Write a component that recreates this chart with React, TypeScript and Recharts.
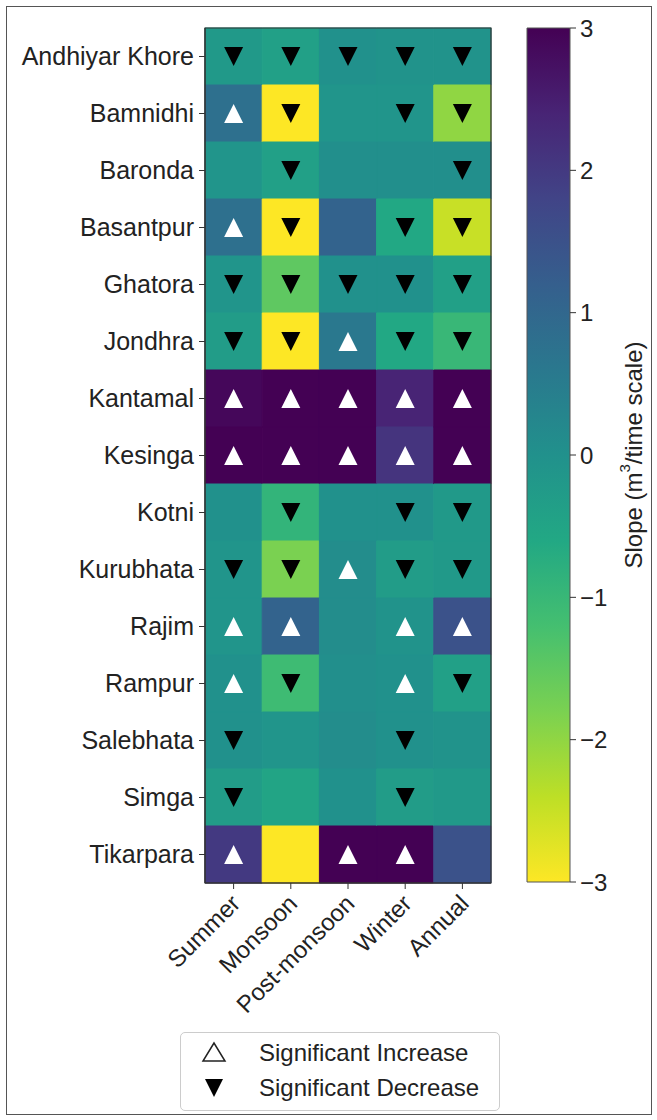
import { ScatterChart, Scatter, XAxis, YAxis, ReferenceArea, Label } from "recharts";

// ── data ──

const STATIONS = [
  "Andhiyar Khore", "Bamnidhi", "Baronda", "Basantpur", "Ghatora",
  "Jondhra", "Kantamal", "Kesinga", "Kotni", "Kurubhata",
  "Rajim", "Rampur", "Salebhata", "Simga", "Tikarpara",
];
const SEASONS = ["Summer", "Monsoon", "Post-monsoon", "Winter", "Annual"];

// slope per station (same order as STATIONS)
const SUMMER_SLOPE = [-0.2, 0.8, -0.1, 0.8, -0.1, -0.3, 2.9, 3, 0, -0.1, -0.1, 0, 0, -0.3, 2.0];
const MONSOON_SLOPE = [-0.4, -3, -0.4, -3, -1.5, -3, 3, 3, -0.9, -1.8, 1.1, -1.1, -0.1, -0.5, -3];
const POST_MONSOON_SLOPE = [0, -0.1, 0.05, 1.1, 0, 0.6, 3, 3, 0, 0.1, 0.1, 0.05, 0.1, 0, 3];
const WINTER_SLOPE = [-0.05, -0.1, 0.05, -0.6, 0, -0.6, 2.4, 2.1, 0, -0.3, -0.05, 0, 0, -0.3, 3];
const ANNUAL_SLOPE = [-0.05, -2.0, 0.05, -2.5, -0.4, -1.0, 3, 3, -0.2, -0.2, 1.5, -0.4, -0.05, -0.2, 1.5];

// significance: U = significant increase, D = significant decrease, "" = none
const SUMMER_TREND = ["D", "U", "", "U", "D", "D", "U", "U", "", "D", "U", "U", "D", "D", "U"];
const MONSOON_TREND = ["D", "D", "D", "D", "D", "D", "U", "U", "D", "D", "U", "D", "", "", ""];
const POST_MONSOON_TREND = ["D", "", "", "", "D", "U", "U", "U", "", "U", "", "", "", "", "U"];
const WINTER_TREND = ["D", "D", "", "D", "D", "D", "U", "U", "D", "D", "U", "U", "D", "D", "U"];
const ANNUAL_TREND = ["D", "D", "D", "D", "D", "D", "U", "U", "D", "D", "U", "D", "", "", ""];

const CBAR_TICKS = [-3, -2, -1, 0, 1, 2, 3];

const SLOPES = [SUMMER_SLOPE, MONSOON_SLOPE, POST_MONSOON_SLOPE, WINTER_SLOPE, ANNUAL_SLOPE];
const TRENDS = [SUMMER_TREND, MONSOON_TREND, POST_MONSOON_TREND, WINTER_TREND, ANNUAL_TREND];

// ── colours ──

const VIRIDIS = [
  "#440154", "#482475", "#414487", "#355f8d", "#2a788e", "#21918c",
  "#22a884", "#44bf70", "#7ad151", "#bddf26", "#fde725",
];

function hexToRgb(h: string) {
  return [1, 3, 5].map((i) => parseInt(h.slice(i, i + 2), 16));
}

function viridis(t: number): string {
  const p = Math.max(0, Math.min(1, t)) * (VIRIDIS.length - 1);
  const i = Math.min(Math.floor(p), VIRIDIS.length - 2);
  const f = p - i;
  const a = hexToRgb(VIRIDIS[i]);
  const b = hexToRgb(VIRIDIS[i + 1]);
  const c = a.map((v, k) => Math.round(v + (b[k] - v) * f));
  return `rgb(${c[0]},${c[1]},${c[2]})`;
}

// viridis reversed, -3 → yellow, 3 → purple
const slopeColor = (v: number) => viridis((3 - Math.max(-3, Math.min(3, v))) / 6);

const FONT = '"Liberation Sans", Arial, sans-serif';
const TEXT = "#222";

const cells = SLOPES.flatMap((col, c) =>
  col.map((v, r) => ({ key: `${c}-${r}`, x1: c, x2: c + 1, y1: r, y2: r + 1, fill: slopeColor(v) }))
);
const ups = TRENDS.flatMap((col, c) =>
  col.map((t, r) => ({ t, x: c + 0.5, y: r + 0.5 })).filter((d) => d.t === "U")
);
const downs = TRENDS.flatMap((col, c) =>
  col.map((t, r) => ({ t, x: c + 0.5, y: r + 0.5 })).filter((d) => d.t === "D")
);

const fmtNum = (v: number) => (v < 0 ? `\u2212${-v}` : `${v}`);

// ── shapes ──

function UpMarker({ cx, cy }: { cx?: number; cy?: number }) {
  if (cx == null || cy == null) return null;
  const h = 9.5;
  return <polygon points={`${cx},${cy - h} ${cx - h},${cy + h} ${cx + h},${cy + h}`} fill="#fff" />;
}

function DownMarker({ cx, cy }: { cx?: number; cy?: number }) {
  if (cx == null || cy == null) return null;
  const h = 9.5;
  return <polygon points={`${cx - h},${cy - h} ${cx + h},${cy - h} ${cx},${cy + h}`} fill="#000" />;
}

function SeasonTick({ x, y, payload }: { x?: number; y?: number; payload?: { value: number } }) {
  if (x == null || y == null || !payload) return null;
  const ax = x + 8;
  const ay = y + 14;
  return (
    <text
      x={ax}
      y={ay}
      transform={`rotate(-45, ${ax}, ${ay})`}
      textAnchor="end"
      fontSize={24}
      fontFamily={FONT}
      fill={TEXT}
    >
      {SEASONS[Math.floor(payload.value)]}
    </text>
  );
}

function CbarLabel({ viewBox }: { viewBox?: { x: number; y: number; width: number; height: number } }) {
  if (!viewBox) return null;
  const x = viewBox.x + viewBox.width - 24;
  const y = viewBox.y + viewBox.height / 2;
  return (
    <text
      x={x}
      y={y}
      transform={`rotate(-90, ${x}, ${y})`}
      textAnchor="middle"
      dominantBaseline="central"
      fontSize={24}
      fontFamily={FONT}
      fill={TEXT}
    >
      Slope (m<tspan dy={-9} fontSize={15}>3</tspan>
      <tspan dy={9}>/time scale)</tspan>
    </text>
  );
}

// ── main ──

export default function App() {
  const tick = { fontSize: 24, fill: TEXT, fontFamily: FONT };
  const stationTick = { fontSize: 25, fill: TEXT, fontFamily: FONT };
  return (
    <div style={{ position: "absolute", left: 0, top: 0, width: 657, height: 1120, background: "#fff" }}>
      <div
        style={{
          position: "absolute",
          left: 6,
          top: 6,
          width: 646,
          height: 1109,
          border: "1.5px solid #555",
          boxSizing: "border-box",
        }}
      />

      {/* heatmap */}
      <div style={{ position: "absolute", left: 0, top: 0 }}>
        <ScatterChart width={657} height={1030} margin={{ top: 28, right: 166, bottom: 17, left: 0 }}>
          <XAxis
            type="number"
            dataKey="x"
            domain={[0, 5]}
            ticks={[0.5, 1.5, 2.5, 3.5, 4.5]}
            tick={<SeasonTick />}
            height={130}
            tickSize={6}
            axisLine={{ stroke: "#333" }}
            tickLine={{ stroke: "#333" }}
            interval={0}
            allowDataOverflow
          />
          <YAxis
            type="number"
            dataKey="y"
            domain={[0, 15]}
            reversed
            ticks={STATIONS.map((_, i) => i + 0.5)}
            tickFormatter={(v: number) => STATIONS[Math.floor(v)]}
            tick={stationTick}
            width={205}
            tickSize={6}
            tickMargin={5}
            axisLine={{ stroke: "#333" }}
            tickLine={{ stroke: "#333" }}
            interval={0}
            allowDataOverflow
          />
          {cells.map((c) => (
            <ReferenceArea
              key={c.key}
              x1={c.x1}
              x2={c.x2}
              y1={c.y1}
              y2={c.y2}
              fill={c.fill}
              fillOpacity={1}
              stroke={c.fill}
              strokeWidth={1}
              ifOverflow="visible"
            />
          ))}
          <ReferenceArea x1={0} x2={5} y1={0} y2={15} fill="none" stroke="#333" strokeWidth={1.2} ifOverflow="visible" />
          <Scatter data={ups} shape={<UpMarker />} isAnimationActive={false} />
          <Scatter data={downs} shape={<DownMarker />} isAnimationActive={false} />
        </ScatterChart>
      </div>

      {/* colour bar */}
      <div style={{ position: "absolute", left: 0, top: 0 }}>
        <ScatterChart width={657} height={1000} margin={{ top: 28, right: 0, bottom: 118, left: 527 }}>
          <defs>
            <linearGradient id="cbarGradient" x1="0" y1="0" x2="0" y2="1">
              {VIRIDIS.map((c, i) => (
                <stop key={c} offset={`${(i / (VIRIDIS.length - 1)) * 100}%`} stopColor={c} />
              ))}
            </linearGradient>
          </defs>
          <XAxis type="number" dataKey="x" domain={[0, 1]} hide allowDataOverflow />
          <YAxis
            type="number"
            dataKey="y"
            orientation="right"
            domain={[-3, 3]}
            ticks={CBAR_TICKS}
            tickFormatter={fmtNum}
            tick={tick}
            width={87}
            tickSize={6}
            tickMargin={4}
            axisLine={false}
            tickLine={{ stroke: "#333" }}
            interval={0}
            allowDataOverflow
          >
            <Label content={<CbarLabel />} />
          </YAxis>
          <ReferenceArea
            x1={0}
            x2={1}
            y1={-3}
            y2={3}
            fill="url(#cbarGradient)"
            fillOpacity={1}
            stroke="#555"
            strokeWidth={1}
            ifOverflow="visible"
          />
          <Scatter data={[]} isAnimationActive={false} />
        </ScatterChart>
      </div>

      {/* legend */}
      <div
        style={{
          position: "absolute",
          left: 180,
          top: 1032,
          width: 320,
          height: 79,
          border: "1px solid #ccc",
          borderRadius: 5,
          boxSizing: "border-box",
          fontFamily: FONT,
          fontSize: 24,
          color: TEXT,
        }}
      >
        <svg width={60} height={79} style={{ position: "absolute", left: 20, top: 0 }}>
          <polygon points="13,10 2,28 24,28" fill="#fff" stroke="#222" strokeWidth={1.5} />
          <polygon points="4,46 22,46 13,64" fill="#000" />
        </svg>
        <div style={{ position: "absolute", left: 78, top: 5, lineHeight: "30px", whiteSpace: "nowrap" }}>
          Significant Increase
        </div>
        <div style={{ position: "absolute", left: 78, top: 40, lineHeight: "30px", whiteSpace: "nowrap" }}>
          Significant Decrease
        </div>
      </div>
    </div>
  );
}
